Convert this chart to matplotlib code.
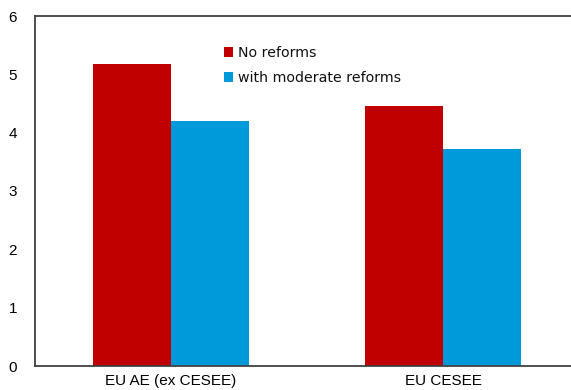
import numpy as np
import matplotlib
matplotlib.use("Agg")
import matplotlib.pyplot as plt

plt.rcParams["font.family"] = ["Liberation Sans", "DejaVu Sans"]

categories = ["EU AE (ex CESEE)", "EU CESEE"]
no_reforms = [5.18, 4.46]
moderate_reforms = [4.2, 3.72]

red = "#C00000"
blue = "#009ADA"

fig = plt.figure(figsize=(5.71, 3.9), dpi=100)
ax = fig.add_axes([35 / 571, 24 / 390, 536 / 571, 350 / 390])

x = np.arange(len(categories))
w = 0.287
ax.bar(x - w / 2, no_reforms, w, color=red, label="No reforms")
ax.bar(x + w / 2, moderate_reforms, w, color=blue, label="with moderate reforms")

ax.set_xlim(-0.5, 1.47)
ax.set_ylim(0, 6)
ax.set_yticks(range(0, 7))
ax.set_xticks(x)
ax.set_xticklabels(categories)
ax.tick_params(axis="both", length=0, labelsize=11, colors="black")
ax.tick_params(axis="y", pad=13)
ax.tick_params(axis="x", pad=6)

for s in ["left", "top", "bottom"]:
    ax.spines[s].set_color("#404040")
    ax.spines[s].set_linewidth(1.3)
ax.spines["right"].set_visible(False)

leg = ax.legend(loc="upper left", bbox_to_anchor=(0.352, 0.915), frameon=False,
                prop={"family": "DejaVu Sans", "size": 10.2},
                handlelength=0.65, handleheight=0.65,
                handletextpad=0.35, labelspacing=0.8, borderpad=0, borderaxespad=0)
for t in leg.get_texts():
    t.set_color("#111111")

fig.savefig("out.png", dpi=100)
